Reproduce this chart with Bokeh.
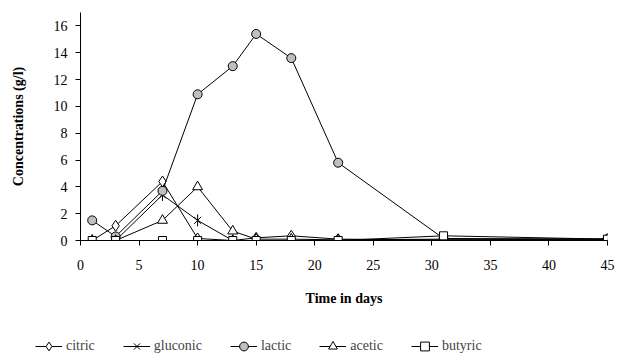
from bokeh.plotting import figure
from bokeh.models import Legend, LegendItem, Range1d, FixedTicker
from bokeh.embed import file_html
from bokeh.resources import INLINE

days = [1, 3, 7, 10, 13, 15, 18, 22, 31, 45]
citric = [0.0, 1.1, 4.4, 0.15, 0.0, 0.2, 0.35, 0.1, 0.05, 0.1]
gluconic = [0.0, 0.0, 3.4, 1.5, 0.0, 0.0, 0.0, 0.0, 0.0, 0.0]
lactic = [1.5, 0.3, 3.7, 10.9, 13.0, 15.4, 13.6, 5.8, 0.15, 0.1]
acetic = [0.0, 0.0, 1.5, 4.0, 0.7, 0.1, 0.1, 0.05, 0.1, 0.1]
butyric = [0.0, 0.0, 0.0, 0.0, 0.0, 0.0, 0.0, 0.0, 0.35, 0.1]

series_names = ["citric", "gluconic", "lactic", "acetic", "butyric"]
x_ticks = [0, 5, 10, 15, 20, 25, 30, 35, 40, 45]
y_ticks = [0, 2, 4, 6, 8, 10, 12, 14, 16]

FONT = "Liberation Serif"

p = figure(frame_width=527, frame_height=228, output_backend="svg", toolbar_location=None,
           x_range=Range1d(0, 45), y_range=Range1d(0, 17))
p.min_border_left = 80
p.min_border_right = 11
p.min_border_top = 12
p.min_border_bottom = 80
p.outline_line_color = None
p.xgrid.visible = False
p.ygrid.visible = False
p.background_fill_color = "white"
p.border_fill_color = "white"

for ax in (p.xaxis[0], p.yaxis[0]):
    ax.major_label_text_font = FONT
    ax.major_label_text_font_size = "14px"
    ax.major_label_text_color = "black"
    ax.axis_label_text_font = FONT
    ax.axis_label_text_font_size = "14px"
    ax.axis_label_text_font_style = "bold"
    ax.axis_label_text_color = "black"
    ax.axis_line_color = "black"
    ax.major_tick_line_color = "black"
    ax.minor_tick_line_color = None
    ax.major_tick_in = 0
    ax.major_tick_out = 5

p.xaxis.ticker = FixedTicker(ticks=x_ticks)
p.yaxis.ticker = FixedTicker(ticks=y_ticks)
p.xaxis.axis_label = "Time in days"
p.yaxis.axis_label = "Concentrations (g/l)"
p.xaxis.major_label_standoff = 14
p.xaxis.axis_label_standoff = 18
p.yaxis.major_label_standoff = 8
p.yaxis.axis_label_standoff = 25


def draw(fig, xs, ys):
    r = []
    r.append(fig.line(xs, ys[0], line_color="black", line_width=1))
    r.append(fig.scatter(xs, ys[0], marker="diamond", size=11, fill_color="white", line_color="black"))
    r.append(fig.line(xs, ys[1], line_color="black", line_width=1))
    r.append(fig.scatter(xs, ys[1], marker="x", size=10, line_color="black", line_width=1))
    r.append(fig.scatter(xs, ys[1], marker="dash", angle=1.5708, size=12, line_color="black", line_width=1))
    r.append(fig.line(xs, ys[2], line_color="black", line_width=1))
    r.append(fig.scatter(xs, ys[2], marker="circle", size=9, fill_color="#c0c0c0", line_color="black"))
    r.append(fig.line(xs, ys[3], line_color="black", line_width=1))
    r.append(fig.scatter(xs, ys[3], marker="triangle", size=10, fill_color="white", line_color="black"))
    r.append(fig.line(xs, ys[4], line_color="black", line_width=1))
    r.append(fig.scatter(xs, ys[4], marker="square", size=8, fill_color="white", line_color="black"))
    return r


all_series = [citric, gluconic, lactic, acetic, butyric]
draw(p, days, all_series)

# legend strip: a second figure whose renderers carry the same styles (data kept out of view)
q = figure(width=618, height=41, output_backend="svg", toolbar_location=None,
           x_range=Range1d(100, 101), y_range=Range1d(100, 101),
           x_axis_location=None, y_axis_location=None)
q.min_border = 0
q.min_border_left = 0
q.min_border_right = 0
q.min_border_top = 0
q.min_border_bottom = 0
q.outline_line_color = None
q.xgrid.visible = False
q.ygrid.visible = False
q.border_fill_color = "white"
q.background_fill_color = "white"
r = draw(q, days, all_series)
groups = [r[0:2], r[2:5], r[5:7], r[7:9], r[9:11]]
items = [LegendItem(label=n, renderers=g) for n, g in zip(series_names, groups)]
legend = Legend(items=items, orientation="horizontal", location=(35, 4),
                label_text_font=FONT, label_text_font_size="14px",
                glyph_width=27, glyph_height=22, label_standoff=4, spacing=28,
                border_line_color=None, background_fill_alpha=0,
                padding=0, margin=0)
q.add_layout(legend, "center")

open("out.html", "w").write(file_html([p, q], INLINE))
